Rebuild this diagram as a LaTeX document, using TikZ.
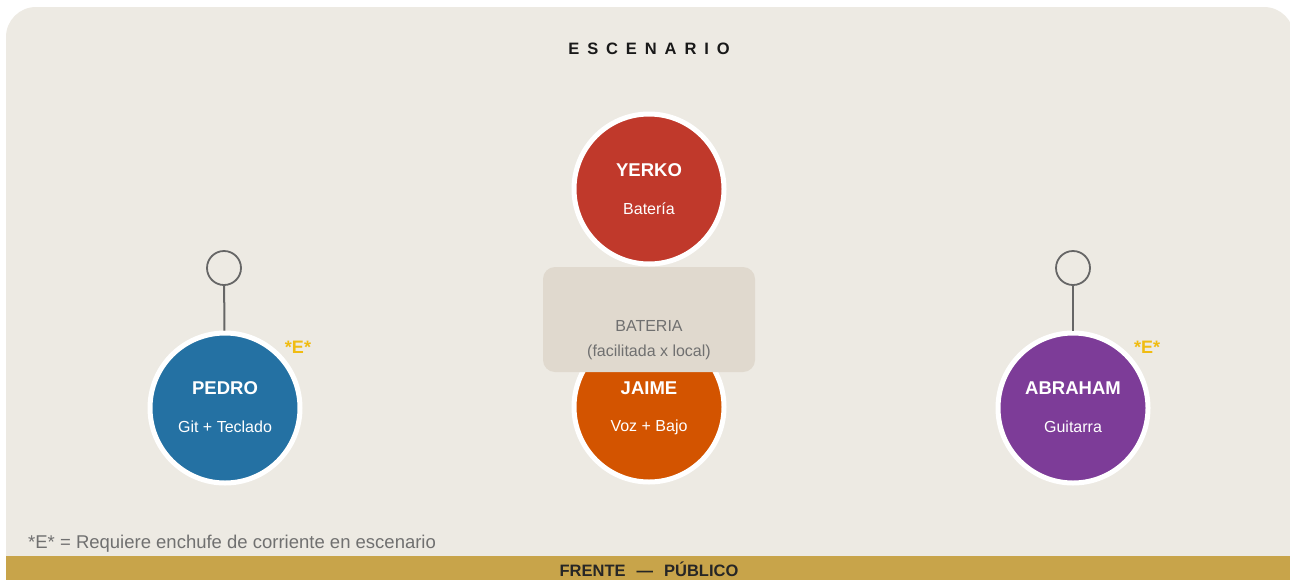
\documentclass[tikz,border=0pt]{standalone}
\usepackage{fontspec}
\setmainfont{Liberation Sans}
\definecolor{bgc}{HTML}{EDEAE3}
\definecolor{boxc}{HTML}{E0D9CE}
\definecolor{goldc}{HTML}{C8A44A}
\definecolor{estar}{HTML}{F0BC12}
\definecolor{pedroc}{HTML}{2471A3}
\definecolor{yerkoc}{HTML}{C0392B}
\definecolor{jaimec}{HTML}{D35400}
\definecolor{abrahamc}{HTML}{7D3C98}
\definecolor{grayt}{HTML}{707070}
\definecolor{plugc}{HTML}{666666}
\newcommand{\ls}{\hspace{7.9pt}}
\begin{document}
\begin{tikzpicture}[x=1pt,y=-1pt,
  musician/.style={circle,minimum size=150pt,inner sep=0pt,draw=white,line width=5pt,fill=#1},
  nametext/.style={text=white,font=\fontsize{18.5}{21}\selectfont\bfseries,inner sep=0pt},
  roletext/.style={text=white,font=\fontsize{16}{19}\selectfont,inner sep=0pt},
  plug/.style={circle,minimum size=34pt,inner sep=0pt,draw=plugc,line width=1.8pt},
  plugline/.style={draw=plugc,line width=2pt},
  emark/.style={text=estar,font=\fontsize{18}{20}\selectfont\bfseries,inner sep=0pt},
  boxtext/.style={text=grayt,font=\fontsize{16}{19}\selectfont,inner sep=0pt},
]
\useasboundingbox (0,0) rectangle (1290,579);
\begin{scope}
\clip (0,0) rectangle (1290,579);
\fill[bgc,rounded corners=30pt] (6,7) rectangle (1294,600);
\fill[goldc] (6,556) rectangle (1294,600);
\end{scope}

\node[font=\fontsize{16.5}{19}\selectfont\bfseries,text=black!90,inner sep=0pt] (title) at (649,49)
  {E\ls S\ls C\ls E\ls N\ls A\ls R\ls I\ls O};

% musicians
\node[musician=yerkoc] (yerko) at (649,189) {};
\node[nametext] (yerkoN) at (649,170) {YERKO};
\node[roletext] (yerkoR) at (649,209) {Batería};

\node[musician=jaimec] (jaime) at (649,407) {};
\node[fill=boxc,rounded corners=12pt,minimum width=212pt,minimum height=105pt,inner sep=0pt] (bateria) at (649,319.5) {};
\node[boxtext] (batT1) at (649,326) {BATERIA};
\node[boxtext] (batT2) at (649,352) {(facilitada x local)};
\node[nametext] (jaimeN) at (649,388) {JAIME};
\node[roletext] (jaimeR) at (649,427) {Voz + Bajo};

\node[musician=pedroc] (pedro) at (225,408) {};
\node[nametext] (pedroN) at (225,388) {PEDRO};
\node[roletext] (pedroR) at (225,427) {Git + Teclado};
\node[plug] (pedroP) at (224,268) {};
\draw[plugline] (pedroP) -- (pedro);
\node[emark] (pedroE) at (298,347) {*E*};

\node[musician=abrahamc] (abraham) at (1073,408) {};
\node[nametext] (abrahamN) at (1073,388) {ABRAHAM};
\node[roletext] (abrahamR) at (1073,427) {Guitarra};
\node[plug] (abrahamP) at (1073,268) {};
\draw[plugline] (abrahamP) -- (abraham);
\node[emark] (abrahamE) at (1147,347) {*E*};

\node[anchor=west,text=grayt,font=\fontsize{18.5}{21}\selectfont,inner sep=0pt] (legend) at (28,544)
  {*E* = Requiere enchufe de corriente en escenario};
\node[font=\fontsize{16.5}{19}\selectfont\bfseries,text=black!85,inner sep=0pt] (front) at (649,569)
  {FRENTE\hspace{11pt}—\hspace{11pt}PÚBLICO};
\end{tikzpicture}
\end{document}
